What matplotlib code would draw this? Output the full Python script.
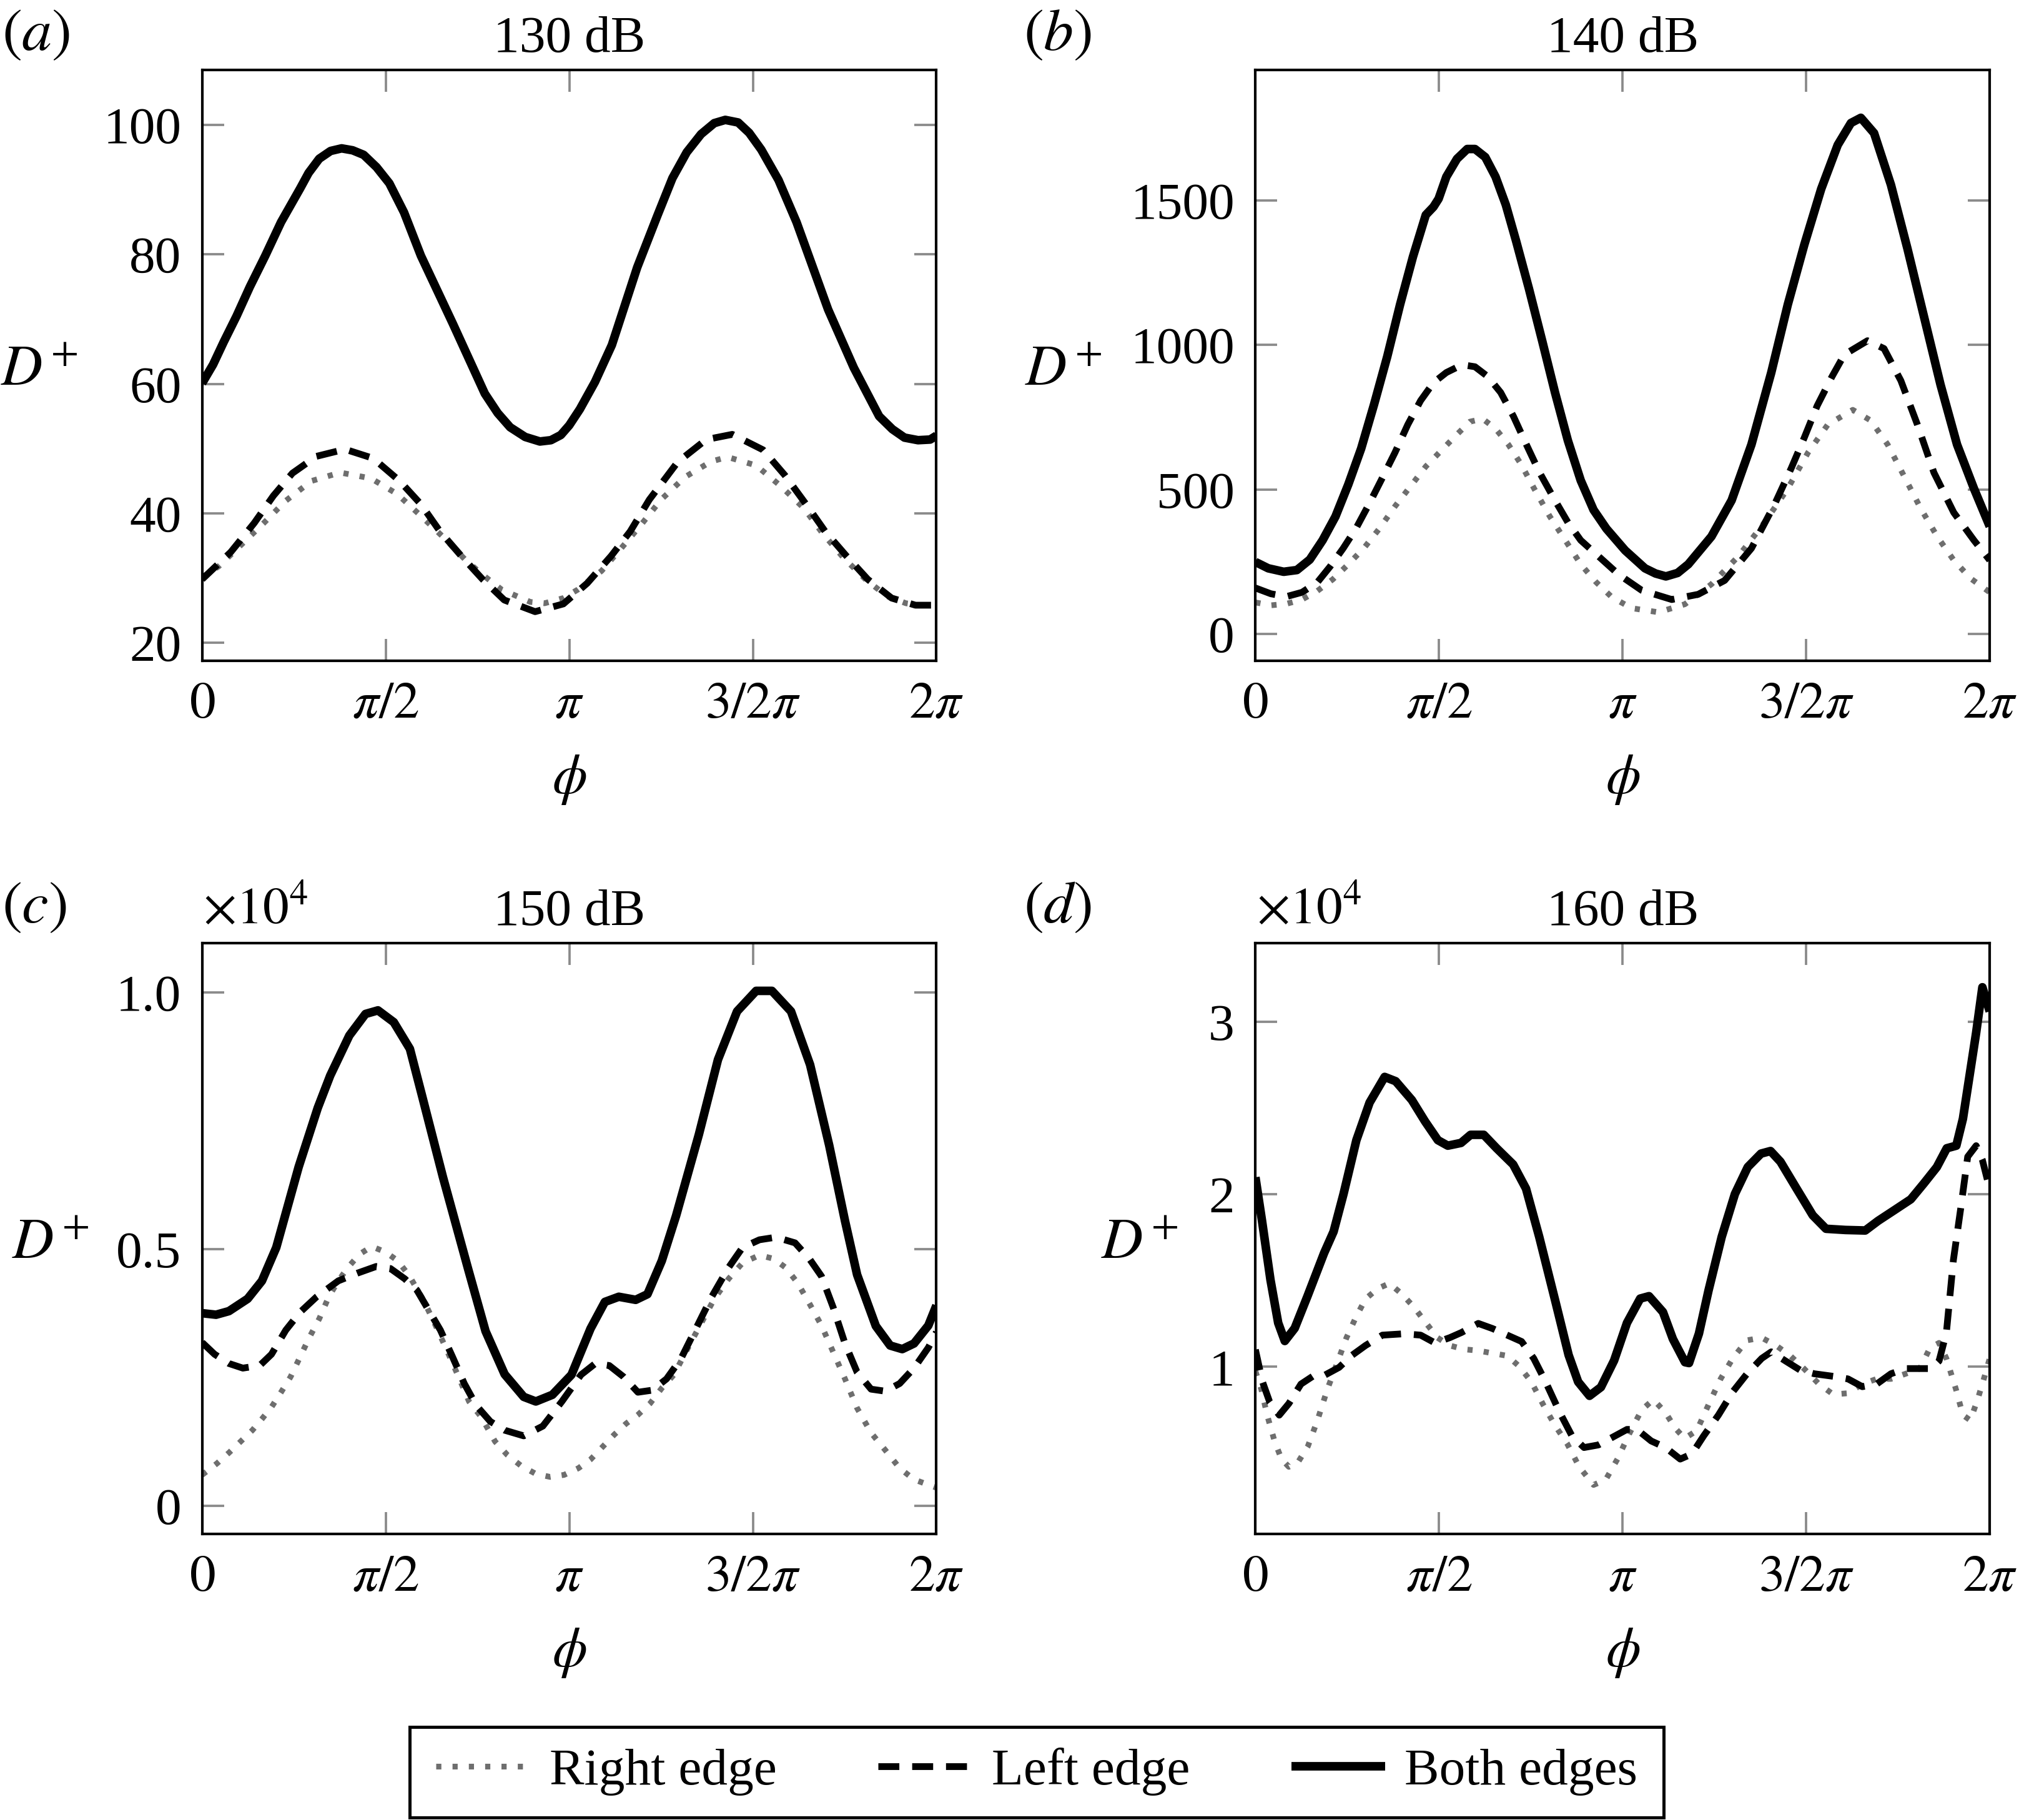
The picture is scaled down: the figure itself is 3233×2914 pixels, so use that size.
import numpy as np
import matplotlib
matplotlib.use("Agg")
import matplotlib.pyplot as plt
from matplotlib.patches import Rectangle
from matplotlib.mathtext import MathTextParser

plt.rcParams['font.family'] = ['Liberation Serif', 'DejaVu Serif']
plt.rcParams['mathtext.fontset'] = 'stix'
FS = 20

# ---------------- data (phi in units of pi) ----------------
# (a) 130 dB
a_both_phi = [0, 0.03, 0.059, 0.094, 0.13, 0.172, 0.215, 0.245, 0.267, 0.29, 0.319, 0.35, 0.380, 0.41, 0.440,
              0.475, 0.510, 0.55, 0.596, 0.683, 0.770, 0.805, 0.839, 0.88, 0.920, 0.95, 0.977, 1.00, 1.029, 1.07,
              1.116, 1.185, 1.24, 1.281, 1.32, 1.359, 1.395, 1.425, 1.46, 1.49, 1.523, 1.57, 1.619, 1.705, 1.775,
              1.844, 1.88, 1.913, 1.95, 1.983, 2.0]
a_both = [60.1, 63.0, 66.5, 70.5, 75.0, 79.8, 85.0, 88.0, 90.2, 92.6, 94.8, 96.0, 96.4, 96.1, 95.4,
          93.5, 91.0, 86.5, 79.8, 69.3, 58.5, 55.5, 53.3, 51.8, 51.1, 51.3, 52.1, 53.6, 56.1, 60.3,
          66.0, 78.0, 86.0, 91.8, 95.8, 98.6, 100.3, 100.8, 100.4, 98.8, 96.2, 91.5, 85.0, 71.5, 62.5,
          55.0, 53.0, 51.7, 51.3, 51.4, 52.0]
a_left_phi = [0, 0.078, 0.142, 0.194, 0.246, 0.311, 0.389, 0.466, 0.538, 0.596, 0.648, 0.706, 0.764, 0.823,
              0.907, 0.984, 1.049, 1.114, 1.166, 1.218, 1.295, 1.373, 1.444, 1.528, 1.587, 1.645, 1.697, 1.755,
              1.813, 1.878, 1.943, 2.0]
a_left = [29.8, 34.0, 38.5, 42.7, 46.2, 48.8, 49.9, 48.5, 45.0, 41.4, 37.2, 33.4, 29.8, 26.6,
          24.8, 26.0, 29.2, 33.4, 37.2, 42.1, 47.9, 51.4, 52.2, 49.8, 45.9, 41.4, 37.2, 33.4,
          29.8, 26.9, 25.8, 25.8]
a_right_phi = [0, 0.045, 0.104, 0.168, 0.227, 0.298, 0.376, 0.460, 0.531, 0.596, 0.661, 0.719, 0.764, 0.816,
               0.894, 0.933, 0.984, 1.023, 1.088, 1.140, 1.198, 1.250, 1.315, 1.386, 1.431, 1.509, 1.574, 1.639,
               1.690, 1.749, 1.807, 1.865, 1.917, 1.956, 2.0]
a_right = [30.1, 31.8, 35.0, 38.5, 41.9, 45.0, 46.3, 45.4, 43.0, 39.6, 36.1, 32.7, 30.5, 28.2,
           26.3, 26.1, 26.9, 28.2, 31.1, 34.5, 38.4, 42.1, 45.6, 48.0, 48.7, 47.4, 44.3, 40.8,
           36.9, 33.0, 29.8, 27.2, 26.1, 25.8, 25.8]

# (b) 140 dB
b_both_phi = [0, 0.035, 0.077, 0.113, 0.148, 0.183, 0.218, 0.253, 0.288, 0.323, 0.359, 0.394, 0.429, 0.464,
              0.485, 0.499, 0.52, 0.549, 0.577, 0.598, 0.626, 0.654, 0.682, 0.71, 0.745, 0.781, 0.816, 0.851,
              0.886, 0.921, 0.956, 1.007, 1.061, 1.09, 1.118, 1.15, 1.179, 1.242, 1.297, 1.351, 1.405, 1.45,
              1.495, 1.541, 1.586, 1.622, 1.649, 1.685, 1.731, 1.776, 1.821, 1.866, 1.911, 1.957, 2.0]
b_both = [250, 228, 216, 222, 258, 325, 407, 518, 642, 794, 960, 1140, 1305, 1450,
          1478, 1506, 1582, 1644, 1678, 1678, 1650, 1582, 1485, 1360, 1195, 1015, 836, 670,
          532, 430, 365, 290, 228, 210, 200, 212, 242, 338, 463, 656, 905, 1140,
          1347, 1540, 1692, 1768, 1786, 1733, 1554, 1333, 1098, 863, 656, 504, 373]
b_left_phi = [0, 0.042, 0.084, 0.127, 0.169, 0.204, 0.239, 0.274, 0.309, 0.345, 0.38, 0.415, 0.45, 0.485,
              0.52, 0.563, 0.598, 0.633, 0.668, 0.703, 0.738, 0.774, 0.816, 0.851, 0.886, 0.935, 0.989, 1.052,
              1.134, 1.206, 1.278, 1.351, 1.414, 1.459, 1.495, 1.530, 1.570, 1.604, 1.667, 1.712, 1.758, 1.803,
              1.848, 1.902, 1.957, 2.0]
b_left = [160, 140, 130, 145, 180, 235, 297, 366, 449, 539, 628, 725, 808, 870,
          905, 932, 925, 891, 836, 753, 656, 559, 463, 387, 325, 269, 207, 152,
          120, 138, 186, 297, 449, 573, 680, 790, 890, 967, 1015, 988, 877, 725,
          559, 421, 325, 256]
b_right_phi = [0, 0.042, 0.084, 0.127, 0.169, 0.211, 0.253, 0.295, 0.338, 0.38, 0.422, 0.464, 0.506, 0.549,
               0.584, 0.619, 0.654, 0.689, 0.724, 0.759, 0.802, 0.844, 0.886, 0.928, 0.971, 1.025, 1.098, 1.17,
               1.242, 1.315, 1.387, 1.45, 1.505, 1.559, 1.627, 1.676, 1.722, 1.767, 1.812, 1.857, 1.902, 1.948,
               2.0]
b_right = [110, 100, 105, 120, 150, 190, 242, 297, 366, 442, 511, 580, 635, 691,
           735, 745, 711, 656, 587, 504, 407, 325, 242, 180, 128, 90, 76, 104,
           173, 269, 387, 504, 628, 725, 776, 739, 656, 546, 435, 338, 256, 193,
           145]

# (c) 150 dB  (values in units of 1e4)
c_both_phi = [0, 0.038, 0.073, 0.124, 0.163, 0.202, 0.263, 0.315, 0.349, 0.401, 0.445, 0.479, 0.522, 0.566,
              0.600, 0.656, 0.725, 0.772, 0.824, 0.876, 0.909, 0.954, 1.006, 1.058, 1.097, 1.135, 1.181, 1.213,
              1.252, 1.291, 1.353, 1.405, 1.457, 1.509, 1.552, 1.604, 1.656, 1.708, 1.751, 1.784, 1.835, 1.874,
              1.907, 1.939, 1.978, 2.0]
c_both = [0.375, 0.372, 0.379, 0.403, 0.438, 0.503, 0.660, 0.775, 0.838, 0.916, 0.958, 0.965, 0.942, 0.890,
          0.796, 0.640, 0.46, 0.34, 0.256, 0.212, 0.203, 0.216, 0.255, 0.345, 0.397, 0.407, 0.401, 0.412,
          0.477, 0.565, 0.723, 0.869, 0.963, 1.003, 1.003, 0.963, 0.859, 0.702, 0.555, 0.45, 0.35, 0.312,
          0.305, 0.316, 0.351, 0.390]
c_left_phi = [0, 0.034, 0.073, 0.111, 0.157, 0.189, 0.228, 0.267, 0.312, 0.371, 0.423, 0.474, 0.513, 0.552,
              0.585, 0.617, 0.649, 0.682, 0.714, 0.747, 0.785, 0.824, 0.876, 0.928, 0.98, 1.032, 1.071, 1.109,
              1.148, 1.187, 1.226, 1.265, 1.304, 1.343, 1.388, 1.434, 1.472, 1.518, 1.563, 1.615, 1.654, 1.687,
              1.719, 1.751, 1.784, 1.822, 1.861, 1.9, 1.939, 1.978, 2.0]
c_left = [0.318, 0.295, 0.277, 0.268, 0.273, 0.295, 0.342, 0.377, 0.407, 0.438, 0.453, 0.466, 0.462, 0.442,
          0.42, 0.381, 0.342, 0.29, 0.238, 0.195, 0.164, 0.147, 0.136, 0.155, 0.203, 0.255, 0.277, 0.273,
          0.251, 0.221, 0.225, 0.247, 0.286, 0.342, 0.407, 0.464, 0.503, 0.518, 0.523, 0.512, 0.481, 0.447,
          0.386, 0.316, 0.26, 0.227, 0.223, 0.238, 0.268, 0.308, 0.338]
c_right_phi = [0, 0.04, 0.073, 0.105, 0.137, 0.163, 0.189, 0.215, 0.241, 0.267, 0.293, 0.319, 0.345, 0.371,
               0.397, 0.429, 0.462, 0.5, 0.533, 0.565, 0.604, 0.636, 0.669, 0.701, 0.727, 0.76, 0.798, 0.831,
               0.87, 0.909, 0.948, 0.986, 1.025, 1.058, 1.09, 1.122, 1.155, 1.187, 1.22, 1.252, 1.285, 1.317,
               1.356, 1.395, 1.434, 1.472, 1.518, 1.557, 1.589, 1.622, 1.654, 1.687, 1.719, 1.751, 1.784, 1.822,
               1.861, 1.9, 1.939, 2.0]
c_right = [0.06, 0.082, 0.103, 0.125, 0.147, 0.169, 0.192, 0.221, 0.251, 0.29, 0.329, 0.364, 0.407, 0.438,
           0.464, 0.49, 0.505, 0.494, 0.477, 0.447, 0.399, 0.351, 0.299, 0.247, 0.203, 0.173, 0.125, 0.099,
           0.077, 0.062, 0.056, 0.06, 0.073, 0.09, 0.114, 0.138, 0.16, 0.177, 0.199, 0.229, 0.255, 0.299,
           0.351, 0.403, 0.442, 0.473, 0.488, 0.481, 0.464, 0.434, 0.394, 0.351, 0.299, 0.247, 0.19, 0.142,
           0.108, 0.073, 0.051, 0.035]

# (d) 160 dB  (values in units of 1e4)
d_both_phi = [0, 0.018, 0.041, 0.062, 0.080, 0.107, 0.142, 0.187, 0.213, 0.240, 0.275, 0.311, 0.352, 0.382,
              0.426, 0.462, 0.497, 0.524, 0.560, 0.586, 0.622, 0.657, 0.702, 0.737, 0.773, 0.817, 0.853, 0.879,
              0.910, 0.941, 0.977, 1.012, 1.048, 1.072, 1.110, 1.137, 1.170, 1.181, 1.208, 1.234, 1.270, 1.306,
              1.341, 1.377, 1.403, 1.430, 1.474, 1.518, 1.554, 1.607, 1.661, 1.696, 1.741, 1.785, 1.821, 1.856,
              1.883, 1.909, 1.927, 1.945, 1.963, 1.980, 2.0]
d_both = [2.10, 1.847, 1.505, 1.255, 1.15, 1.224, 1.411, 1.66, 1.785, 2.003, 2.315, 2.533, 2.682, 2.657,
          2.548, 2.424, 2.315, 2.283, 2.299, 2.346, 2.346, 2.268, 2.174, 2.034, 1.754, 1.38, 1.069, 0.913,
          0.832, 0.882, 1.037, 1.255, 1.396, 1.41, 1.318, 1.162, 1.027, 1.022, 1.193, 1.442, 1.754, 2.003,
          2.159, 2.237, 2.252, 2.19, 2.034, 1.879, 1.801, 1.794, 1.791, 1.847, 1.91, 1.972, 2.065, 2.159,
          2.268, 2.283, 2.439, 2.688, 2.938, 3.202, 3.062]
d_left_phi = [0, 0.019, 0.039, 0.065, 0.091, 0.124, 0.156, 0.189, 0.228, 0.261, 0.3, 0.346, 0.405, 0.45,
              0.489, 0.529, 0.561, 0.607, 0.646, 0.686, 0.725, 0.758, 0.79, 0.829, 0.862, 0.895, 0.934, 0.973,
              1.012, 1.039, 1.078, 1.117, 1.157, 1.189, 1.221, 1.261, 1.3, 1.339, 1.379, 1.405, 1.444, 1.483,
              1.522, 1.574, 1.614, 1.653, 1.692, 1.731, 1.771, 1.81, 1.842, 1.862, 1.882, 1.901, 1.921, 1.94,
              1.963, 1.980, 2.0]
d_left = [1.10, 0.915, 0.795, 0.72, 0.787, 0.9, 0.945, 0.952, 0.997, 1.064, 1.124, 1.184, 1.192, 1.184,
          1.139, 1.169, 1.199, 1.252, 1.222, 1.184, 1.147, 1.049, 0.915, 0.735, 0.6, 0.532, 0.547, 0.592,
          0.637, 0.637, 0.57, 0.532, 0.465, 0.495, 0.6, 0.72, 0.855, 0.96, 1.049, 1.087, 1.034, 0.982,
          0.96, 0.945, 0.93, 0.885, 0.9, 0.96, 0.99, 0.99, 0.99, 1.034, 1.199, 1.619, 1.919, 2.219,
          2.283, 2.2, 2.03]
d_right_phi = [0, 0.016, 0.032, 0.052, 0.071, 0.091, 0.117, 0.143, 0.169, 0.196, 0.222, 0.248, 0.274, 0.3,
               0.333, 0.365, 0.398, 0.431, 0.463, 0.496, 0.529, 0.568, 0.607, 0.646, 0.686, 0.718, 0.751, 0.784,
               0.816, 0.849, 0.882, 0.921, 0.954, 0.986, 1.019, 1.052, 1.084, 1.117, 1.143, 1.169, 1.202, 1.234,
               1.267, 1.3, 1.339, 1.379, 1.418, 1.457, 1.494, 1.535, 1.574, 1.614, 1.653, 1.692, 1.731, 1.771,
               1.81, 1.837, 1.862, 1.882, 1.908, 1.927, 1.947, 1.967, 1.986, 2.0]
d_right = [0.975, 0.87, 0.72, 0.57, 0.465, 0.42, 0.45, 0.54, 0.69, 0.87, 1.019, 1.169, 1.289, 1.394,
           1.454, 1.484, 1.424, 1.349, 1.259, 1.169, 1.124, 1.102, 1.094, 1.079, 1.064, 1.004, 0.915, 0.78,
           0.66, 0.555, 0.42, 0.315, 0.345, 0.465, 0.615, 0.75, 0.81, 0.735, 0.645, 0.585, 0.63, 0.78,
           0.93, 1.049, 1.154, 1.169, 1.124, 1.064, 0.99, 0.9, 0.84, 0.847, 0.9, 0.93, 0.93, 0.96,
           0.99, 1.109, 1.139, 1.049, 0.87, 0.72, 0.69, 0.81, 0.945, 1.05]

titles = ['130 dB', '140 dB', '150 dB', '160 dB']
panel_labels = ['(a)', '(b)', '(c)', '(d)']
legend_labels = ['Right edge', 'Left edge', 'Both edges']
xtick_vals = [0, 0.5, 1.0, 1.5, 2.0]
xtick_labels = ['$0$', r'$\pi/2$', r'$\pi$', r'$3/2\pi$', r'$2\pi$']

# y-label: tighten the gap between D and the superscript if mathtext allows it
YLAB = r'$D^{+}$'
try:
    MathTextParser('agg').parse(r'$D^{\hspace{-0.12}+}$', 72, matplotlib.font_manager.FontProperties(size=20))
    YLAB = r'$D^{\hspace{-0.12}+}$'
except Exception:
    pass

GRAY = '#6e6e6e'
TICKC = '#8a8a8a'

fig = plt.figure(figsize=(3233 / 300, 2914 / 300), dpi=300)
W, H = 0.3637, 0.3246
pos = [[0.1001, 0.6369, W, H],
       [0.6218, 0.6369, W, H],
       [0.1001, 0.1572, W, H],
       [0.6218, 0.1572, W, H]]

data = [
    (a_right_phi, a_right, a_left_phi, a_left, a_both_phi, a_both),
    (b_right_phi, b_right, b_left_phi, b_left, b_both_phi, b_both),
    (c_right_phi, c_right, c_left_phi, c_left, c_both_phi, c_both),
    (d_right_phi, d_right, d_left_phi, d_left, d_both_phi, d_both),
]
ylims = [(17.2, 108.5), (-92, 1951), (-0.055, 1.096), (0.031, 3.458)]
yticks = [[20, 40, 60, 80, 100], [0, 500, 1000, 1500], [0, 0.5, 1.0], [1, 2, 3]]
yticklabels = [['20', '40', '60', '80', '100'], ['0', '500', '1000', '1500'], ['0', '0.5', '1.0'], ['1', '2', '3']]
ylabel_x = [-0.222, -0.262, -0.207, -0.158]
label_pos = [(0.001, 0.9805), (0.507, 0.9805), (0.001, 0.501), (0.507, 0.501)]

handles = []
for i in range(4):
    ax = fig.add_axes(pos[i])
    rp, r, lp, l, bp, b = data[i]
    h1, = ax.plot(np.array(rp) * np.pi, r, color=GRAY, lw=2.2, dashes=(0.9, 1.95),
                  dash_capstyle='butt')
    h2, = ax.plot(np.array(lp) * np.pi, l, color='black', lw=2.6, dashes=(3.1, 1.9),
                  dash_capstyle='butt')
    h3, = ax.plot(np.array(bp) * np.pi, b, color='black', lw=3.3, solid_joinstyle='round',
                  solid_capstyle='butt')
    if i == 0:
        handles = [h1, h2, h3]
    ax.set_xlim(0, 2 * np.pi)
    ax.set_ylim(*ylims[i])
    ax.set_xticks(np.array(xtick_vals) * np.pi)
    ax.set_xticklabels(xtick_labels, fontsize=FS)
    ax.set_yticks(yticks[i])
    ax.set_yticklabels(yticklabels[i], fontsize=FS)
    ax.tick_params(direction='in', length=8.5, width=0.9, color=TICKC, top=True, right=True)
    ax.tick_params(axis='x', pad=8)
    ax.tick_params(axis='y', pad=8)
    for sp in ax.spines.values():
        sp.set_linewidth(1.0)
        sp.set_color('black')
    ax.set_xlabel(r'$\phi$', fontsize=FS + 1.5)
    ax.xaxis.set_label_coords(0.5, -0.201)
    ax.xaxis.label.set_va('center')
    ax.set_ylabel(YLAB, fontsize=FS + 2, rotation=0, va='center', ha='center')
    ax.yaxis.set_label_coords(ylabel_x[i], 0.49)
    ax.set_title(titles[i], fontsize=FS, pad=7)
    fig.text(label_pos[i][0], label_pos[i][1], r'$' + panel_labels[i] + '$', fontsize=FS + 3,
             ha='left', va='center')
    if i >= 2:
        fig.text(pos[i][0] + 0.0005, 0.4995, r'$\times10^{4}$', fontsize=FS, ha='left', va='center')

# legend frame and entries
fig.patches.append(Rectangle((0.203, 0.0015), 0.621, 0.0495, transform=fig.transFigure,
                             fill=False, edgecolor='black', linewidth=1.2))
leg = fig.legend(handles, legend_labels, loc='center', bbox_to_anchor=(0.5135, 0.0265), ncol=3,
                 fontsize=FS, frameon=False,
                 handlelength=1.8, handletextpad=0.38, columnspacing=1.95, borderpad=0.3)

fig.savefig('out.png', dpi=300)
